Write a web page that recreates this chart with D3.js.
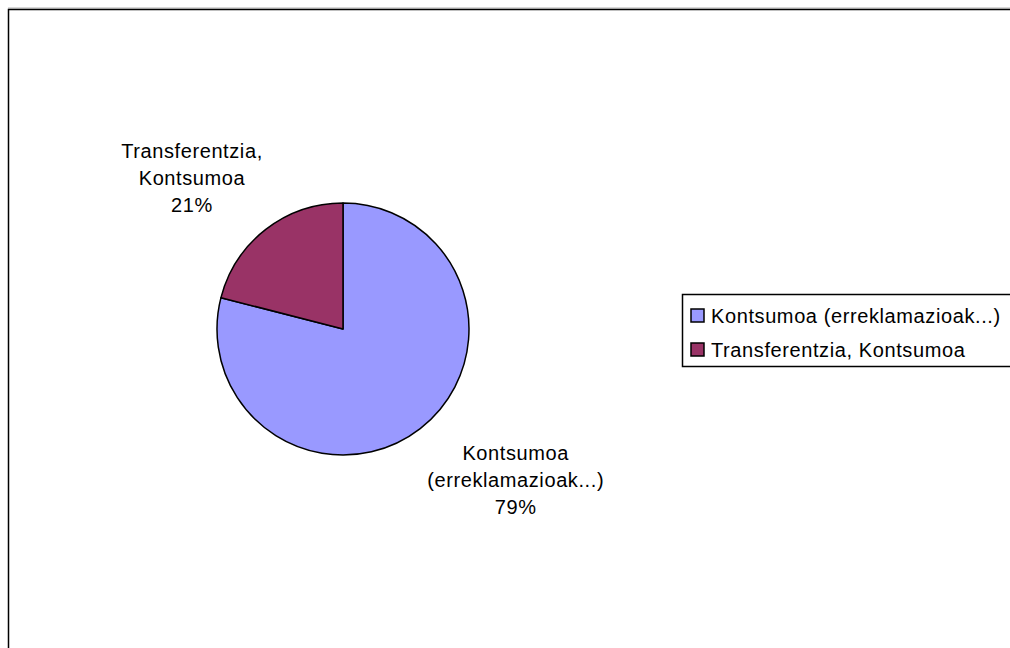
<!DOCTYPE html>
<html>
<head>
<meta charset="utf-8">
<script src="https://cdn.jsdelivr.net/npm/d3@7"></script>
<style>
  body { margin: 0; background: #fff; }
  svg text { font-family: "Liberation Sans", Arial, sans-serif; }
</style>
</head>
<body>
<svg id="chart" width="1010" height="648"></svg>
<script>
const categories = ["Kontsumoa (erreklamazioak...)", "Transferentzia, Kontsumoa"];
const labelLines = [["Kontsumoa", "(erreklamazioak...)"], ["Transferentzia,", "Kontsumoa"]];
const values = [79, 21];
const colors = ["#9999ff", "#993366"];

const svg = d3.select("#chart");

// outer frame (runs off the right and bottom edges)
svg.append("line")
    .attr("x1", 8).attr("x2", 1010).attr("y1", 8).attr("y2", 8)
    .attr("stroke", "#b0b0b0").attr("stroke-width", 1);
svg.append("rect")
    .attr("x", 8.5).attr("y", 9.5)
    .attr("width", 1100).attr("height", 700)
    .attr("fill", "none").attr("stroke", "#000").attr("stroke-width", 1.5);

const cx = 343, cy = 329, r = 126;
const data = categories.map((c, i) => ({ name: c, value: values[i], lines: labelLines[i], color: colors[i] }));
const total = d3.sum(values);

const pie = d3.pie().value(d => d.value).sort(null);
const arc = d3.arc().innerRadius(0).outerRadius(r);
const arcs = pie(data);

const g = svg.append("g").attr("transform", `translate(${cx},${cy})`);

g.selectAll("path")
    .data(arcs)
    .enter()
    .append("path")
    .attr("d", arc)
    .attr("fill", d => d.data.color)
    .attr("stroke", "#000")
    .attr("stroke-width", 1.5)
    .attr("stroke-linejoin", "round");

// data labels: the label box corner nearest the pie sits just outside the arc
const labelArc = d3.arc().innerRadius(r + 13).outerRadius(r + 13);
const lineH = 27;
arcs.forEach(d => {
    const [ax, ay] = labelArc.centroid(d);
    const lines = d.data.lines.concat([Math.round(d.data.value / total * 100) + "%"]);
    const t = g.append("text")
        .attr("text-anchor", "middle")
        .attr("font-size", 20)
        .attr("letter-spacing", 0.6)
        .attr("fill", "#000");
    lines.forEach((s, i) => {
        t.append("tspan").attr("x", 0).attr("y", i * lineH).text(s);
    });
    const w = t.node().getBBox().width;
    const tx = ax > 0 ? ax + w / 2 - 1 : ax - w / 2 + 5;
    const ty = ay > 0 ? ay + 21 : ay - 7 - (lines.length - 1) * lineH;
    t.attr("transform", `translate(${tx},${ty})`);
});

// legend
const legend = svg.append("g").attr("transform", "translate(682,294)");
legend.append("rect")
    .attr("x", 0.5).attr("y", 0.5)
    .attr("width", 400).attr("height", 72)
    .attr("fill", "#fff").attr("stroke", "#000").attr("stroke-width", 1.5);

const rowY = d3.scalePoint().domain(categories).range([22, 56]);
const items = legend.selectAll(".item")
    .data(data)
    .enter()
    .append("g")
    .attr("class", "item")
    .attr("transform", d => `translate(0,${rowY(d.name)})`);

items.append("rect")
    .attr("x", 9).attr("y", -7)
    .attr("width", 13).attr("height", 13)
    .attr("fill", d => d.color)
    .attr("stroke", "#000").attr("stroke-width", 1.5);

items.append("text")
    .attr("x", 29).attr("y", 7)
    .attr("font-size", 20)
    .attr("letter-spacing", 0.6)
    .attr("fill", "#000")
    .text(d => d.name);
</script>
</body>
</html>
